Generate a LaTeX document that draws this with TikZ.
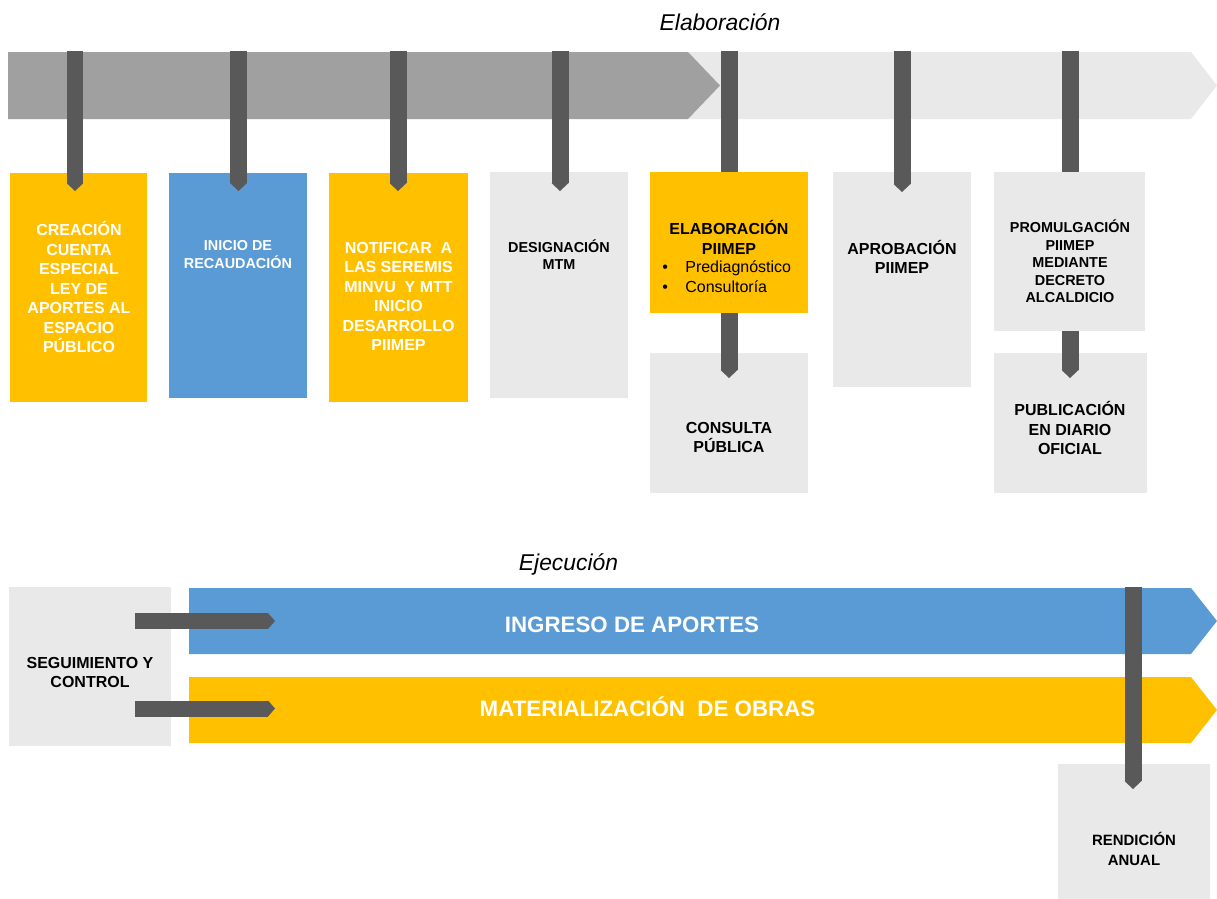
\documentclass[tikz,border=0pt]{standalone}
\usepackage{fontspec}
\setmainfont{Liberation Sans}
\usetikzlibrary{arrows.meta,calc}

\definecolor{amarillo}{HTML}{FFC000}
\definecolor{azul}{HTML}{5B9BD5}
\definecolor{grisclaro}{HTML}{E9E9E9}
\definecolor{grismedio}{HTML}{A0A0A0}
\definecolor{grisoscuro}{HTML}{595959}

\tikzset{
  caja/.style={inner sep=0pt, outer sep=0pt},
  txt/.style={inner sep=0pt, align=center, font=\bfseries\fontsize{9.1}{11.1}\selectfont},
  txtchico/.style={txt, font=\bfseries\fontsize{8.2}{10}\selectfont},
  etapa/.style={inner sep=0pt, anchor=base, font=\itshape\fontsize{13}{15}\selectfont},
  barra/.style={draw=grisoscuro, line width=0.34cm},
  colgante/.style={barra, -{Triangle[width=0pt 1, length=0.16cm, line width=0pt]}},
  flecha/.style={draw=grisoscuro, line width=0.32cm, -{Triangle[width=0pt 1, length=0.14cm, line width=0pt]}}
}

\begin{document}
\begin{tikzpicture}[x=0.02cm,y=-0.02cm]
	\useasboundingbox (0,0) rectangle (1217,899);
	\node[etapa] (elab) at (720,30.5) {Elaboración};
	\node[etapa] (ejec) at (568.5,570) {Ejecución};
	% bandas
	\fill[grisclaro] (8,52) -- (1191,52) -- (1217,85.5) -- (1191,119) -- (8,119) -- cycle;
	\fill[grismedio] (8,52) -- (688,52) -- (720,85.5) -- (688,119) -- (8,119) -- cycle;
	\fill[azul] (189,588) -- (1191,588) -- (1217,621) -- (1191,654) -- (189,654) -- cycle;
	\fill[amarillo] (189,677) -- (1191,677) -- (1217,710) -- (1191,743) -- (189,743) -- cycle;
	\node[inner sep=0pt, anchor=base, text=white, font=\bfseries\fontsize{12.7}{15}\selectfont] (ingreso) at (632,632.7) {INGRESO DE APORTES};
	\node[inner sep=0pt, anchor=base, text=white, font=\bfseries\fontsize{12.7}{15}\selectfont] (materializacion) at (647.5,716.7) {MATERIALIZACIÓN\ \ DE OBRAS};
	% cajas
	\node[caja, fill=amarillo, minimum width=2.75cm, minimum height=4.58cm] (creacion) at (78.75,287.5) {};
	\node[caja, fill=azul, minimum width=2.76cm, minimum height=4.5cm] (inicio) at (238,285.5) {};
	\node[caja, fill=amarillo, minimum width=2.78cm, minimum height=4.58cm] (notificar) at (398.5,287.5) {};
	\node[caja, fill=grisclaro, minimum width=2.77cm, minimum height=4.52cm] (designacion) at (558.75,285) {};
	\node[caja, fill=amarillo, minimum width=3.16cm, minimum height=2.82cm] (elaboracion) at (729,242.5) {};
	\node[caja, fill=grisclaro, minimum width=3.16cm, minimum height=2.8cm] (consulta) at (729,423) {};
	\node[caja, fill=grisclaro, minimum width=2.77cm, minimum height=4.3cm] (aprobacion) at (901.75,279.5) {};
	\node[caja, fill=grisclaro, minimum width=3.03cm, minimum height=3.18cm] (promulgacion) at (1069.75,251.5) {};
	\node[caja, fill=grisclaro, minimum width=3.06cm, minimum height=2.8cm] (publicacion) at (1070.5,423) {};
	\node[caja, fill=grisclaro, minimum width=3.24cm, minimum height=3.18cm] (seguimiento) at (90,666.5) {};
	\node[caja, fill=grisclaro, minimum width=3.04cm, minimum height=2.72cm] (rendicion) at (1134,832) {};
	% textos
	\node[txt, text=white] (creacion-t) at (79,287) {CREACIÓN\\CUENTA\\ESPECIAL\\LEY DE\\APORTES AL\\ESPACIO\\PÚBLICO};
	\node[txtchico, text=white] (inicio-t) at (238,254.5) {INICIO DE\\RECAUDACIÓN};
	\node[txt, text=white] (notificar-t) at (398.5,296.5) {NOTIFICAR\ \ A\\LAS SEREMIS\\MINVU\ \ Y MTT\\INICIO\\DESARROLLO\\PIIMEP};
	\node[txtchico] (designacion-t) at (559,254.5) {DESIGNACIÓN\\MTM};
	\node[txt] (elaboracion-t) at (729,237.5) {ELABORACIÓN\\PIIMEP};
	\node[inner sep=0pt, anchor=west, align=left, font=\fontsize{9.1}{11.3}\selectfont] (elaboracion-l) at (662,277) {\makebox[0.46cm][l]{\textbullet}Prediagnóstico\\\makebox[0.46cm][l]{\textbullet}Consultoría};
	\node[txt] (consulta-t) at (729,437.5) {CONSULTA\\PÚBLICA};
	\node[txt] (aprobacion-t) at (902,257) {APROBACIÓN\\PIIMEP};
	\node[txtchico] (promulgacion-t) at (1070,261.5) {PROMULGACIÓN\\PIIMEP\\MEDIANTE\\DECRETO\\ALCALDICIO};
	\node[txt] (publicacion-t) at (1070,428) {PUBLICACIÓN\\EN DIARIO\\OFICIAL};
	\node[txt] (seguimiento-t) at (90,672.5) {SEGUIMIENTO Y\\CONTROL};
	\node[txt, font=\bfseries\fontsize{8.5}{11.1}\selectfont] (rendicion-t) at (1134,849) {RENDICIÓN\\ANUAL};
	% colgantes
	\coordinate (c1) at (75,51);
	\coordinate (c2) at (238.5,51);
	\coordinate (c3) at (398,51);
	\coordinate (c4) at (560,51);
	\coordinate (c5) at (729,51);
	\coordinate (c6) at (902,51);
	\coordinate (c7) at (1070,51);
	\coordinate (c8) at (1133,587);
	\draw[colgante] (c1) -- ($(c1 |- creacion.north)+(0,18)$);
	\draw[colgante] (c2) -- ($(c2 |- inicio.north)+(0,18)$);
	\draw[colgante] (c3) -- ($(c3 |- notificar.north)+(0,18)$);
	\draw[colgante] (c4) -- ($(c4 |- designacion.north)+(0,19)$);
	\draw[barra] (c5) -- (c5 |- elaboracion.north);
	\draw[colgante] (elaboracion.south) -- ($(consulta.north)+(0,25)$);
	\draw[colgante] (c6) -- ($(c6 |- aprobacion.north)+(0,20)$);
	\draw[barra] (c7) -- (c7 |- promulgacion.north);
	\draw[colgante] (c7 |- promulgacion.south) -- ($(c7 |- publicacion.north)+(0,25)$);
	\draw[colgante] (c8) -- ($(c8 |- rendicion.north)+(0,25)$);
	% flechas de seguimiento
	\coordinate (s1) at (135,621);
	\coordinate (e1) at (275,621);
	\coordinate (s2) at (135,708.5);
	\coordinate (e2) at (275,708.5);
	\draw[flecha] (s1) -- (e1);
	\draw[flecha] (s2) -- (e2);
\end{tikzpicture}
\end{document}
